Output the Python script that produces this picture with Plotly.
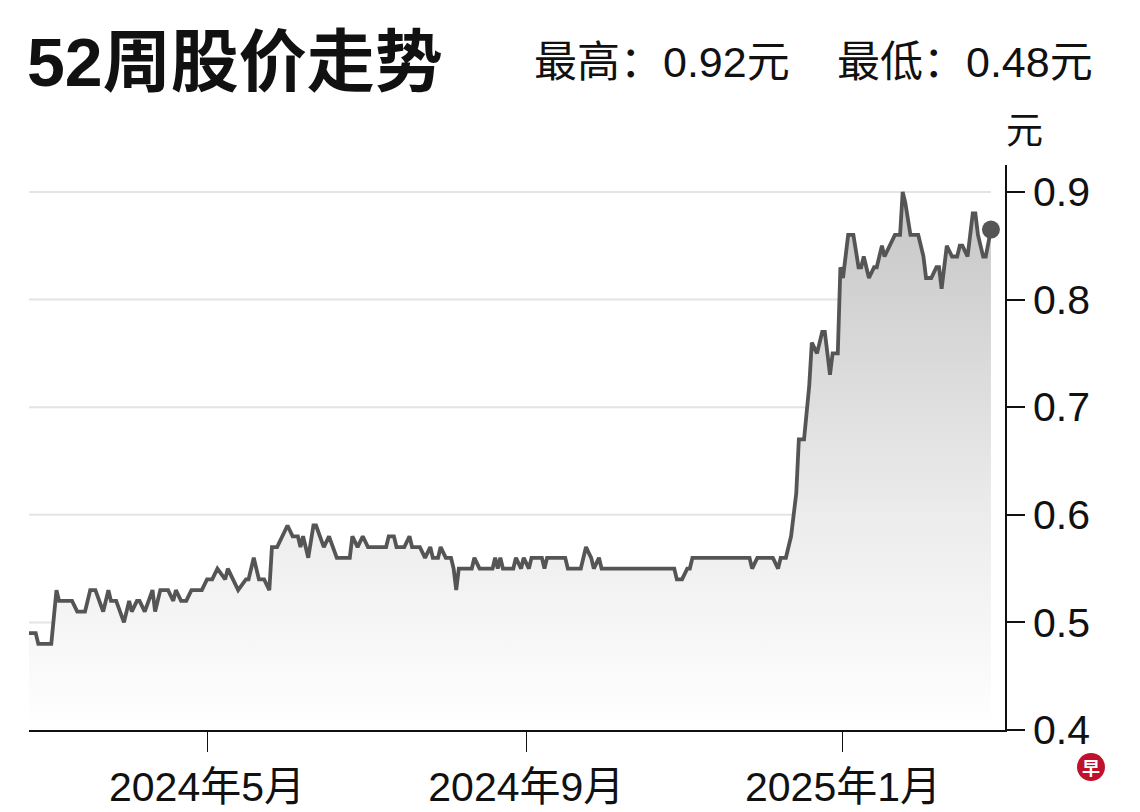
import plotly.graph_objects as go

# ---- data ----
dates = [
    "2024-02-22", "2024-02-25", "2024-02-26", "2024-03-02", "2024-03-04", "2024-03-05",
    "2024-03-10", "2024-03-12", "2024-03-15", "2024-03-17", "2024-03-19", "2024-03-22",
    "2024-03-24", "2024-03-25", "2024-03-27", "2024-03-30", "2024-04-01", "2024-04-02",
    "2024-04-04", "2024-04-05", "2024-04-07", "2024-04-10", "2024-04-11", "2024-04-13",
    "2024-04-16", "2024-04-18", "2024-04-19", "2024-04-21", "2024-04-23", "2024-04-25",
    "2024-04-29", "2024-05-01", "2024-05-03", "2024-05-05", "2024-05-08", "2024-05-09",
    "2024-05-13", "2024-05-16", "2024-05-17", "2024-05-19", "2024-05-21", "2024-05-23",
    "2024-05-25", "2024-05-26", "2024-05-28", "2024-05-30", "2024-06-01", "2024-06-03",
    "2024-06-05", "2024-06-06", "2024-06-07", "2024-06-09", "2024-06-11", "2024-06-12",
    "2024-06-15", "2024-06-17", "2024-06-20", "2024-06-25", "2024-06-26", "2024-06-28",
    "2024-06-30", "2024-07-02", "2024-07-09", "2024-07-10", "2024-07-12", "2024-07-13",
    "2024-07-16", "2024-07-18", "2024-07-19", "2024-07-22", "2024-07-24", "2024-07-26",
    "2024-07-27", "2024-07-29", "2024-07-30", "2024-08-01", "2024-08-03", "2024-08-04",
    "2024-08-05", "2024-08-06", "2024-08-11", "2024-08-12", "2024-08-14", "2024-08-19",
    "2024-08-20", "2024-08-21", "2024-08-22", "2024-08-23", "2024-08-27", "2024-08-28",
    "2024-08-30", "2024-08-31", "2024-09-02", "2024-09-03", "2024-09-07", "2024-09-08",
    "2024-09-09", "2024-09-16", "2024-09-17", "2024-09-22", "2024-09-24", "2024-09-26",
    "2024-09-27", "2024-09-29", "2024-09-30", "2024-10-28", "2024-10-29", "2024-10-31",
    "2024-11-02", "2024-11-03", "2024-11-04", "2024-11-26", "2024-11-27", "2024-11-29",
    "2024-12-05", "2024-12-07", "2024-12-08", "2024-12-10", "2024-12-12", "2024-12-14",
    "2024-12-15", "2024-12-17", "2024-12-19", "2024-12-20", "2024-12-22", "2024-12-24",
    "2024-12-25", "2024-12-27", "2024-12-28", "2024-12-30", "2024-12-31", "2025-01-01",
    "2025-01-03", "2025-01-05", "2025-01-07", "2025-01-08", "2025-01-09", "2025-01-11",
    "2025-01-13", "2025-01-14", "2025-01-16", "2025-01-17", "2025-01-19", "2025-01-21",
    "2025-01-23", "2025-01-24", "2025-01-25", "2025-01-27", "2025-01-30", "2025-02-01",
    "2025-02-02", "2025-02-04", "2025-02-06", "2025-02-07", "2025-02-08", "2025-02-10",
    "2025-02-12", "2025-02-14", "2025-02-15", "2025-02-16", "2025-02-18", "2025-02-20",
    "2025-02-21", "2025-02-22", "2025-02-24", "2025-02-25", "2025-02-27",
]
prices = [
    0.49, 0.49, 0.48, 0.48, 0.53, 0.52,
    0.52, 0.51, 0.51, 0.53, 0.53, 0.51,
    0.53, 0.52, 0.52, 0.50, 0.52, 0.51,
    0.52, 0.52, 0.51, 0.53, 0.51, 0.53,
    0.53, 0.52, 0.53, 0.52, 0.52, 0.53,
    0.53, 0.54, 0.54, 0.55, 0.54, 0.55,
    0.53, 0.54, 0.54, 0.56, 0.54, 0.54,
    0.53, 0.57, 0.57, 0.58, 0.59, 0.58,
    0.58, 0.57, 0.58, 0.56, 0.59, 0.59,
    0.57, 0.58, 0.56, 0.56, 0.58, 0.57,
    0.58, 0.57, 0.57, 0.58, 0.58, 0.57,
    0.57, 0.58, 0.57, 0.57, 0.56, 0.57,
    0.56, 0.56, 0.57, 0.56, 0.56, 0.55,
    0.53, 0.55, 0.55, 0.56, 0.55, 0.55,
    0.56, 0.55, 0.56, 0.55, 0.55, 0.56,
    0.55, 0.56, 0.55, 0.56, 0.56, 0.55,
    0.56, 0.56, 0.55, 0.55, 0.57, 0.56,
    0.55, 0.56, 0.55, 0.55, 0.54, 0.54,
    0.55, 0.55, 0.56, 0.56, 0.55, 0.56,
    0.56, 0.55, 0.56, 0.56, 0.58, 0.62,
    0.67, 0.67, 0.72, 0.76, 0.75, 0.77,
    0.77, 0.73, 0.75, 0.75, 0.83, 0.82,
    0.86, 0.86, 0.83, 0.83, 0.84, 0.82,
    0.83, 0.83, 0.85, 0.84, 0.85, 0.86,
    0.86, 0.90, 0.89, 0.86, 0.86, 0.84,
    0.82, 0.82, 0.83, 0.83, 0.81, 0.85,
    0.84, 0.84, 0.85, 0.85, 0.84, 0.88,
    0.88, 0.86, 0.84, 0.84, 0.865,
]

x_tick_vals = ["2024-05-01", "2024-09-01", "2025-01-01"]
x_tick_text = ["2024年5月", "2024年9月", "2025年1月"]
y_tick_vals = [0.4, 0.5, 0.6, 0.7, 0.8, 0.9]
y_tick_text = ["0.4", "0.5", "0.6", "0.7", "0.8", "0.9"]

title_text = "52周股价走势"
high_text = "最高：0.92元"
low_text = "最低：0.48元"
unit_text = "元"

# ---- styling ----
# the page body has an 8px margin, so the figure starts at (8, 8) in the window
OFF = 8
W, H = 1140 - OFF, 812 - OFF
ML, MR, MT, MB = 29 - OFF, 135, 165 - OFF, 82
PW, PH = W - ML - MR, H - MT - MB

def px_x(p):  # window pixel -> paper x
    return (p - OFF - ML) / PW

def px_y(p):  # window pixel -> paper y
    return (H - MB - (p - OFF)) / PH

SANS = "Liberation Sans, Arial, Noto Sans CJK SC, sans-serif"
LINE = "#555555"

fig = go.Figure()

fig.add_trace(go.Scatter(
    x=dates, y=prices, mode="lines",
    line=dict(color=LINE, width=3.8),
    fill="tozeroy",
    fillgradient=dict(
        type="vertical",
        start=0.4, stop=0.9,
        colorscale=[[0, "rgba(255,255,255,1)"], [0.4, "rgba(236,236,236,1)"], [1, "rgba(198,198,198,1)"]],
    ),
    hoverinfo="skip",
    showlegend=False,
))

fig.add_trace(go.Scatter(
    x=[dates[-1]], y=[prices[-1]], mode="markers",
    marker=dict(color=LINE, size=18),
    hoverinfo="skip", showlegend=False,
))

shapes = []
for v in y_tick_vals[1:]:
    shapes.append(dict(
        type="line", xref="x", yref="y",
        x0=dates[0], x1=dates[-1], y0=v, y1=v,
        line=dict(color="#e4e4e4", width=2), layer="below",
    ))
# logo circle
shapes.append(dict(
    type="circle", xref="paper", yref="paper",
    x0=px_x(1077), x1=px_x(1105), y0=px_y(781), y1=px_y(753),
    fillcolor="#c0102c", line=dict(width=0),
))

annotations = [
    dict(text="<b>" + title_text + "</b>", xref="paper", yref="paper",
         x=px_x(25), y=px_y(62), xanchor="left", yanchor="middle",
         showarrow=False, font=dict(family=SANS, size=68, color="#111111")),
    dict(text=high_text, xref="paper", yref="paper",
         x=px_x(532), y=px_y(62), xanchor="left", yanchor="middle",
         showarrow=False, font=dict(family=SANS, size=43, color="#111111")),
    dict(text=low_text, xref="paper", yref="paper",
         x=px_x(835), y=px_y(62), xanchor="left", yanchor="middle",
         showarrow=False, font=dict(family=SANS, size=43, color="#111111")),
    dict(text=unit_text, xref="paper", yref="paper",
         x=px_x(1004), y=px_y(131), xanchor="left", yanchor="middle",
         showarrow=False, font=dict(family=SANS, size=37, color="#111111")),
    dict(text="<b>早</b>", xref="paper", yref="paper",
         x=px_x(1091), y=px_y(767), xanchor="center", yanchor="middle",
         showarrow=False, font=dict(family="Noto Sans CJK SC", size=18, color="white")),
]

fig.update_layout(
    width=W, height=H,
    margin=dict(l=ML, r=MR, t=MT, b=MB, pad=0),
    paper_bgcolor="white", plot_bgcolor="white",
    shapes=shapes, annotations=annotations,
    xaxis=dict(
        type="date",
        range=["2024-02-22 10:00", "2025-03-04 10:00"],
        tickvals=x_tick_vals, ticktext=x_tick_text,
        showgrid=False, zeroline=False,
        showline=True, linecolor="#111111", linewidth=1.5,
        ticks="outside", ticklen=20, tickwidth=1.2, tickcolor="#111111",
        tickfont=dict(family=SANS, size=41, color="#111111"),
        automargin=False,
        fixedrange=True,
    ),
    yaxis=dict(
        side="right",
        range=[0.4, 0.925],
        tickvals=y_tick_vals, ticktext=y_tick_text,
        showgrid=False, zeroline=False,
        showline=True, linecolor="#111111", linewidth=1.5,
        ticks="outside", ticklen=18, tickwidth=1.5, tickcolor="#111111",
        tickfont=dict(family=SANS, size=41, color="#111111"),
        automargin=False,
        fixedrange=True,
    ),
)

fig.write_html("out.html", config={"displayModeBar": False})
